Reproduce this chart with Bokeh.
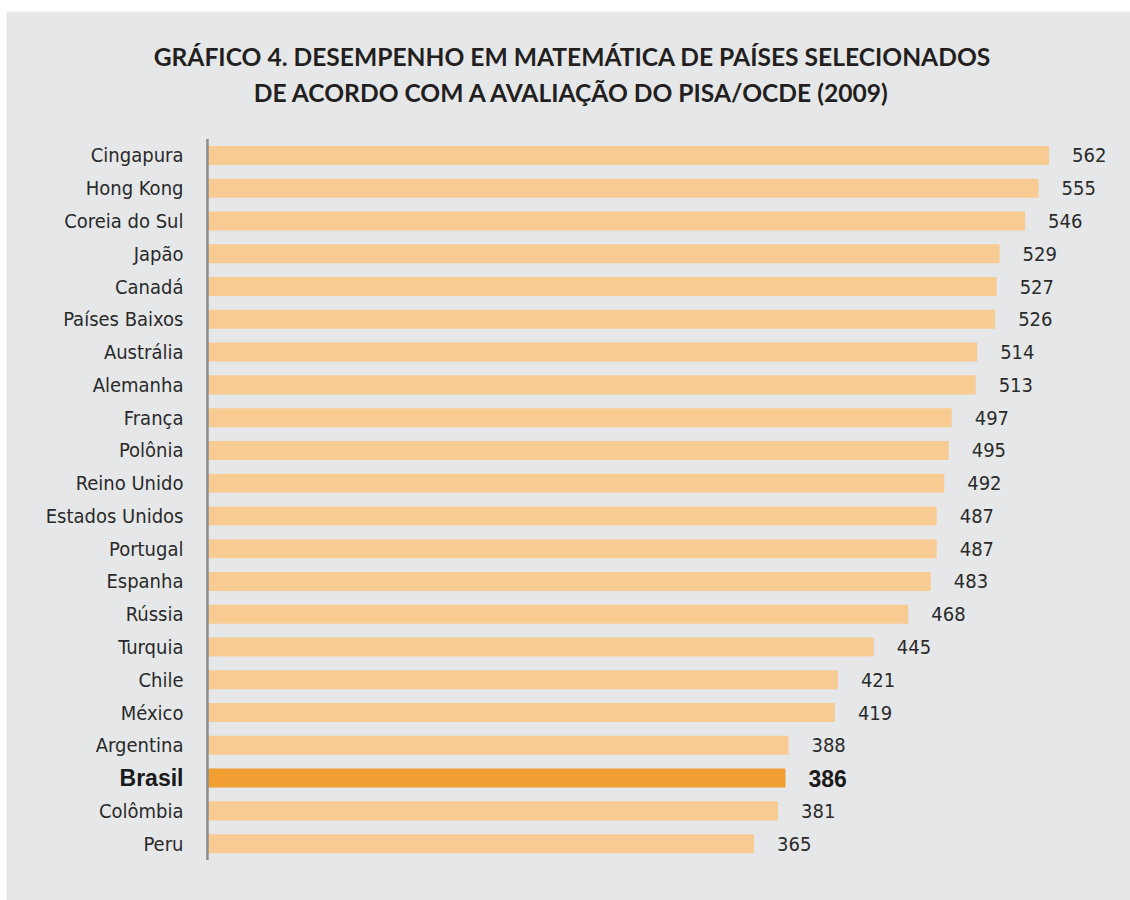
from bokeh.plotting import figure
from bokeh.models import Range1d, ColumnDataSource
from bokeh.embed import file_html
from bokeh.resources import INLINE
from bokeh.core.properties import value

countries = ["Cingapura", "Hong Kong", "Coreia do Sul", "Japão", "Canadá",
             "Países Baixos", "Austrália", "Alemanha", "França", "Polônia",
             "Reino Unido", "Estados Unidos", "Portugal", "Espanha", "Rússia",
             "Turquia", "Chile", "México", "Argentina", "Brasil", "Colômbia", "Peru"]
scores = [562, 555, 546, 529, 527, 526, 514, 513, 497, 495, 492, 487, 487,
          483, 468, 445, 421, 419, 388, 386, 381, 365]
highlight = "Brasil"
title_lines = ["GRÁFICO 4. DESEMPENHO EM MATEMÁTICA DE PAÍSES SELECIONADOS",
               "DE ACORDO COM A AVALIAÇÃO DO PISA/OCDE (2009)"]

BG = "#e6e7e8"
LIGHT = "#f8cb93"
DARK = "#f09e32"
TXT = "#231f20"
NARROW = "DejaVu Sans Condensed"

n = len(countries)
pos = [n - 1 - i for i in range(n)]
is_hl = [c == highlight for c in countries]

src = ColumnDataSource(dict(
    pos=pos,
    country=countries,
    score=scores,
    label=[str(s) for s in scores],
    color=[DARK if h else LIGHT for h in is_hl],
    font=["Liberation Sans" if h else NARROW for h in is_hl],
    style=["bold" if h else "normal" for h in is_hl],
    size=["23px" if h else "20px" for h in is_hl],
    tcolor=["#1a1a1a" if h else "#2a2a2a" for h in is_hl],
))

p = figure(width=1124, height=889, output_backend="svg", toolbar_location=None,
           x_range=Range1d(-134.2, 616.4), y_range=Range1d(-1.735, 25.394),
           x_axis_location=None, y_axis_location=None,
           min_border=0, background_fill_color=BG, border_fill_color=BG,
           outline_line_color=None)
p.margin = (11, 0, 0, 6)
p.grid.visible = False

p.hbar(y="pos", left=0, right="score", height=0.58, fill_color="color",
       line_color=None, source=src)

# vertical axis line
p.segment(x0=[0], y0=[-0.5], x1=[0], y1=[n - 0.5], line_color="#8c8d8f",
          line_width=2.5)

# value labels
p.text(x="score", y="pos", text="label", x_offset=23, text_baseline="middle",
       text_align="left", text_font="font", text_font_style="style",
       text_font_size="size", text_color="tcolor", source=src)

# category labels
p.text(x=0, y="pos", text="country", x_offset=-24, text_baseline="middle",
       text_align="right", text_font="font", text_font_style="style",
       text_font_size="size", text_color="tcolor", source=src)

# title
p.text(x=[243.7, 243.7], y=[24.02, 22.91], text=title_lines,
       text_align="center", text_baseline="middle", text_font=value("Lato"),
       text_font_style="bold", text_font_size="24.6px", text_color=TXT)

open("out.html", "w").write(file_html(p, INLINE))
